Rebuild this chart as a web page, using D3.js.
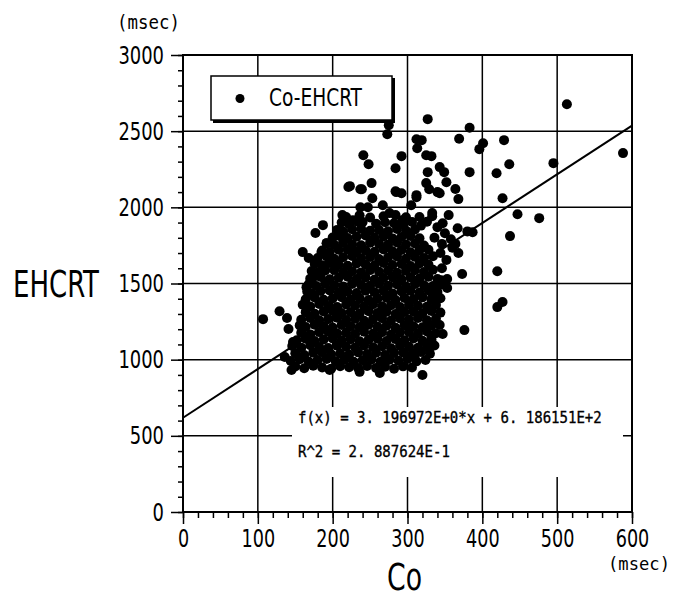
<!DOCTYPE html>
<html>
<head>
<meta charset="utf-8">
<script src="https://cdn.jsdelivr.net/npm/d3@7"></script>
<style>
  html, body { margin: 0; padding: 0; background: #fff; }
  svg { display: block; }
  .lbl { font-family: "Liberation Sans Narrow", "DejaVu Sans Condensed", "Liberation Sans", sans-serif; fill: #000; }
  .mono { font-family: "DejaVu Sans Mono", "Liberation Mono", monospace; fill: #000; }
</style>
</head>
<body>
<svg id="chart" width="675" height="598"></svg>
<script>
// ---- data ----
const xTicks = [0, 100, 200, 300, 400, 500, 600];
const yTicks = [0, 500, 1000, 1500, 2000, 2500, 3000];
const xGrid = [100, 200, 300, 400, 500];
const yGrid = [500, 1000, 1500, 2000, 2500];
const seriesName = "Co-EHCRT";
const fitSlope = 3.196972;
const fitIntercept = 618.6151;
const fitText = "f(x) = 3. 196972E+0*x + 6. 186151E+2";
const r2Text = "R^2 = 2. 887624E-1";

// dense core of the cloud, read row by row (Co msec, EHCRT msec)
const corePoints = [
  [150,955],[162,944],[174,960],[186,948],[198,941],[210,957],[222,950],[234,945],[246,959],[258,946],[270,953],[282,940],[294,956],[306,949],
  [144,992],[156,1003],[168,988],[180,997],[192,1005],[204,990],[216,999],[228,986],[240,996],[252,1002],[264,987],[276,1000],[288,993],[300,1004],[312,989],[324,998],
  [150,1042],[162,1031],[174,1046],[186,1049],[198,1036],[210,1041],[222,1033],[234,1048],[246,1037],[258,1045],[270,1030],[282,1043],[294,1047],[306,1035],[318,1050],[330,1039],
  [146,1090],[158,1079],[170,1095],[182,1083],[194,1076],[206,1092],[218,1085],[230,1080],[242,1094],[254,1081],[266,1088],[278,1075],[290,1091],[302,1084],[314,1078],[326,1089],[336,1093],
  [152,1127],[164,1138],[176,1123],[188,1132],[200,1140],[212,1125],[224,1134],[236,1121],[248,1131],[260,1137],[272,1122],[284,1135],[296,1128],[308,1139],[320,1124],[332,1133],
  [158,1177],[170,1166],[182,1181],[194,1184],[206,1171],[218,1176],[230,1168],[242,1183],[254,1172],[266,1180],[278,1165],[290,1178],[302,1182],[314,1170],[326,1185],[338,1174],
  [156,1225],[164,1214],[176,1230],[188,1218],[200,1211],[212,1227],[224,1220],[236,1215],[248,1229],[260,1216],[272,1223],[284,1210],[296,1226],[308,1219],[320,1213],[332,1224],[343,1228],
  [158,1262],[170,1273],[182,1258],[194,1267],[206,1275],[218,1260],[230,1269],[242,1256],[254,1266],[266,1272],[278,1257],[290,1270],[302,1263],[314,1274],[326,1259],[338,1268],
  [164,1312],[176,1301],[188,1316],[200,1319],[212,1306],[224,1311],[236,1303],[248,1318],[260,1307],[272,1315],[284,1300],[296,1313],[308,1317],[320,1305],[332,1320],[344,1309],
  [160,1360],[170,1349],[182,1365],[194,1353],[206,1346],[218,1362],[230,1355],[242,1350],[254,1364],[266,1351],[278,1358],[290,1345],[302,1361],[314,1354],[326,1348],[338,1359],
  [164,1397],[176,1408],[188,1393],[200,1402],[212,1410],[224,1395],[236,1404],[248,1391],[260,1401],[272,1407],[284,1392],[296,1405],[308,1398],[320,1409],[332,1394],[344,1403],
  [166,1447],[172,1436],[184,1451],[196,1454],[208,1441],[220,1446],[232,1438],[244,1453],[256,1442],[268,1450],[280,1435],[292,1448],[304,1452],[316,1440],[328,1455],[340,1444],
  [168,1495],[178,1484],[190,1500],[202,1488],[214,1481],[226,1497],[238,1490],[250,1485],[262,1499],[274,1486],[286,1493],[298,1480],[310,1496],[322,1489],[334,1483],[345,1494],
  [170,1532],[184,1543],[196,1528],[208,1537],[220,1545],[232,1530],[244,1539],[256,1526],[268,1536],[280,1542],[292,1527],[304,1540],[316,1533],[328,1544],[340,1529],
  [172,1582],[180,1571],[190,1586],[202,1589],[214,1576],[226,1581],[238,1573],[250,1588],[262,1577],[274,1585],[286,1570],[298,1583],[310,1587],[322,1575],[334,1590],
  [176,1630],[186,1619],[196,1635],[208,1623],[220,1616],[232,1632],[244,1625],[256,1620],[268,1634],[280,1621],[292,1628],[304,1615],[316,1631],[328,1624],
  [180,1667],[192,1678],[202,1663],[214,1672],[226,1680],[238,1665],[250,1674],[262,1661],[274,1671],[286,1677],[298,1662],[310,1675],[322,1668],[334,1679],
  [186,1717],[196,1706],[208,1721],[220,1724],[232,1711],[244,1716],[256,1708],[268,1723],[280,1712],[292,1720],[304,1705],[316,1718],[328,1722],
  [192,1765],[202,1754],[214,1770],[226,1758],[238,1751],[250,1767],[262,1760],[274,1755],[286,1769],[298,1756],[310,1763],[322,1750],
  [200,1802],[208,1813],[220,1798],[232,1807],[244,1815],[256,1800],[268,1809],[280,1796],[292,1806],[304,1812],[316,1797],
  [206,1852],[214,1841],[226,1856],[238,1859],[250,1846],[262,1851],[274,1843],[286,1858],[298,1847],[310,1855],
  [212,1900],[222,1889],[234,1905],[258,1893],[270,1902],[282,1895],[294,1890],[306,1904],
  [218,1937],[236,1948],[250,1933],[268,1942],[284,1950],[298,1935]
];

// scattered points round the core
const outerPoints = [
  [513,2677],[327,2579],[383,2522],[275,2539],[273,2480],[312,2447],[319,2441],[369,2450],[401,2421],[396,2382],
  [429,2441],[313,2388],[241,2342],[292,2336],[325,2342],[332,2336],[248,2283],[284,2257],[327,2231],[343,2264],
  [349,2231],[383,2231],[419,2224],[436,2283],[495,2290],[588,2356],[352,2165],[364,2120],[223,2139],[239,2119],
  [252,2159],[284,2106],[292,2093],[427,2060],[368,2054],[447,1955],[476,1929],[437,1811],[387,1837],[380,1842],
  [355,1949],[333,1942],[367,1863],[368,1700],[360,1735],[373,1562],[353,1529],[353,1470],[345,1522],[420,1581],
  [333,1411],[332,1325],[347,1168],[332,1155],[376,1194],[329,1070],[311,1043],[320,899],[420,1345],[427,1378],
  [263,912],[236,920],[196,932],[145,932],
  [312,2080],[325,2159],[343,2093],[285,2100],[221,2133],[237,2119],[213,1949],[227,1916],[240,1903],[247,2001],
  [267,2014],[276,1962],[293,1916],[316,1936],[333,1962],[347,1896],[305,2014],[312,2067],[253,2060],[340,2100],
  [329,2119],[237,2000],
  [107,1266],[129,1318],[139,1273],[141,1201],[147,1116],[136,1017],[160,1214],[160,1706],[168,1667],[177,1831],
  [187,1883],[165,1476],[173,1535],[185,1706],[192,1765],
  [346,1600],[352,1655],[344,1700],[358,1790],[350,1830],[340,1870],[326,1905],[318,1880],[364,1760],[346,1760],[336,1800]
];

const points = corePoints.concat(outerPoints);

// ---- layout ----
const svg = d3.select("#chart");
const plot = { left: 183, right: 632, top: 55, bottom: 512 };

const x = d3.scaleLinear().domain([0, 600]).range([plot.left, plot.right]);
const y = d3.scaleLinear().domain([0, 3000]).range([plot.bottom, plot.top]);

// squeeze a text horizontally to a given width (the chart font is condensed)
function placeText(str, cls, size, px, py, width) {
  const t = svg.append("text").attr("class", cls).attr("font-size", size).text(str);
  const natural = t.node().getComputedTextLength();
  t.attr("transform", `translate(${px},${py}) scale(${width / natural},1)`);
  return t;
}

// grid
const gGrid = svg.append("g").attr("stroke", "#000").attr("stroke-width", 1.5);
gGrid.selectAll("line.v").data(xGrid).join("line")
  .attr("class", "v")
  .attr("x1", (d) => x(d)).attr("x2", (d) => x(d))
  .attr("y1", plot.top).attr("y2", plot.bottom);
gGrid.selectAll("line.h").data(yGrid).join("line")
  .attr("class", "h")
  .attr("x1", plot.left).attr("x2", plot.right)
  .attr("y1", (d) => y(d)).attr("y2", (d) => y(d));

// axes
const fmt = d3.format("d");
const yAxis = svg.append("g").attr("transform", `translate(${plot.left},0)`)
  .call(d3.axisLeft(y).tickValues(yTicks).tickSize(12).tickPadding(7).tickFormat(fmt));
const yMinor = svg.append("g").attr("transform", `translate(${plot.left},0)`)
  .call(d3.axisLeft(y).tickValues(d3.range(0, 3001, 100)).tickSize(5).tickFormat(""));
const xAxis = svg.append("g").attr("transform", `translate(0,${plot.bottom})`)
  .call(d3.axisBottom(x).tickValues(xTicks).tickSize(12).tickPadding(5).tickFormat(fmt));
const xMinor = svg.append("g").attr("transform", `translate(0,${plot.bottom})`)
  .call(d3.axisBottom(x).tickValues(d3.range(0, 601, 20)).tickSize(6).tickFormat(""));

[yAxis, yMinor, xAxis, xMinor].forEach((g) => {
  g.select(".domain").remove();
  g.selectAll(".tick line").attr("stroke", "#000").attr("stroke-width", 1.5);
});
yAxis.selectAll(".tick text")
  .attr("class", "lbl").attr("font-size", 25)
  .attr("textLength", (d) => fmt(d).length * 11.4).attr("lengthAdjust", "spacingAndGlyphs");
xAxis.selectAll(".tick text")
  .attr("class", "lbl").attr("font-size", 25)
  .attr("textLength", (d) => fmt(d).length * 11.2).attr("lengthAdjust", "spacingAndGlyphs");

// regression text box (white, covers grid)
svg.append("rect")
  .attr("x", 292).attr("y", 407).attr("width", 331).attr("height", 70)
  .attr("fill", "#fff");
placeText(fitText, "mono", 16, 298, 423, 304).attr("stroke", "#000").attr("stroke-width", 0.35);
placeText(r2Text, "mono", 16, 298, 457, 152).attr("stroke", "#000").attr("stroke-width", 0.35);

// regression line
svg.append("line")
  .attr("x1", x(0)).attr("y1", y(fitIntercept))
  .attr("x2", x(600)).attr("y2", y(fitSlope * 600 + fitIntercept))
  .attr("stroke", "#000").attr("stroke-width", 2);

// points
svg.append("g").selectAll("circle").data(points).join("circle")
  .attr("cx", (d) => x(d[0])).attr("cy", (d) => y(d[1]))
  .attr("r", 5).attr("fill", "#000");

// legend
const legend = svg.append("g");
legend.append("rect").attr("x", 213).attr("y", 78).attr("width", 182).attr("height", 45).attr("fill", "#000");
legend.append("rect").attr("x", 211).attr("y", 76).attr("width", 181).attr("height", 44)
  .attr("fill", "#fff").attr("stroke", "#000").attr("stroke-width", 1.5);
legend.append("circle").attr("cx", 240).attr("cy", 98.5).attr("r", 4.5).attr("fill", "#000");
placeText(seriesName, "lbl", 24, 269, 106, 93);

// frame
svg.append("rect")
  .attr("x", plot.left).attr("y", plot.top)
  .attr("width", plot.right - plot.left).attr("height", plot.bottom - plot.top)
  .attr("fill", "none").attr("stroke", "#000").attr("stroke-width", 2);

// titles and units
placeText("EHCRT", "lbl", 38, 13, 297, 86);
placeText("Co", "lbl", 38, 387, 590, 35);
placeText("(msec)", "mono", 19, 117, 29, 63);
placeText("(msec)", "mono", 18, 608, 570, 62);
</script>
</body>
</html>
